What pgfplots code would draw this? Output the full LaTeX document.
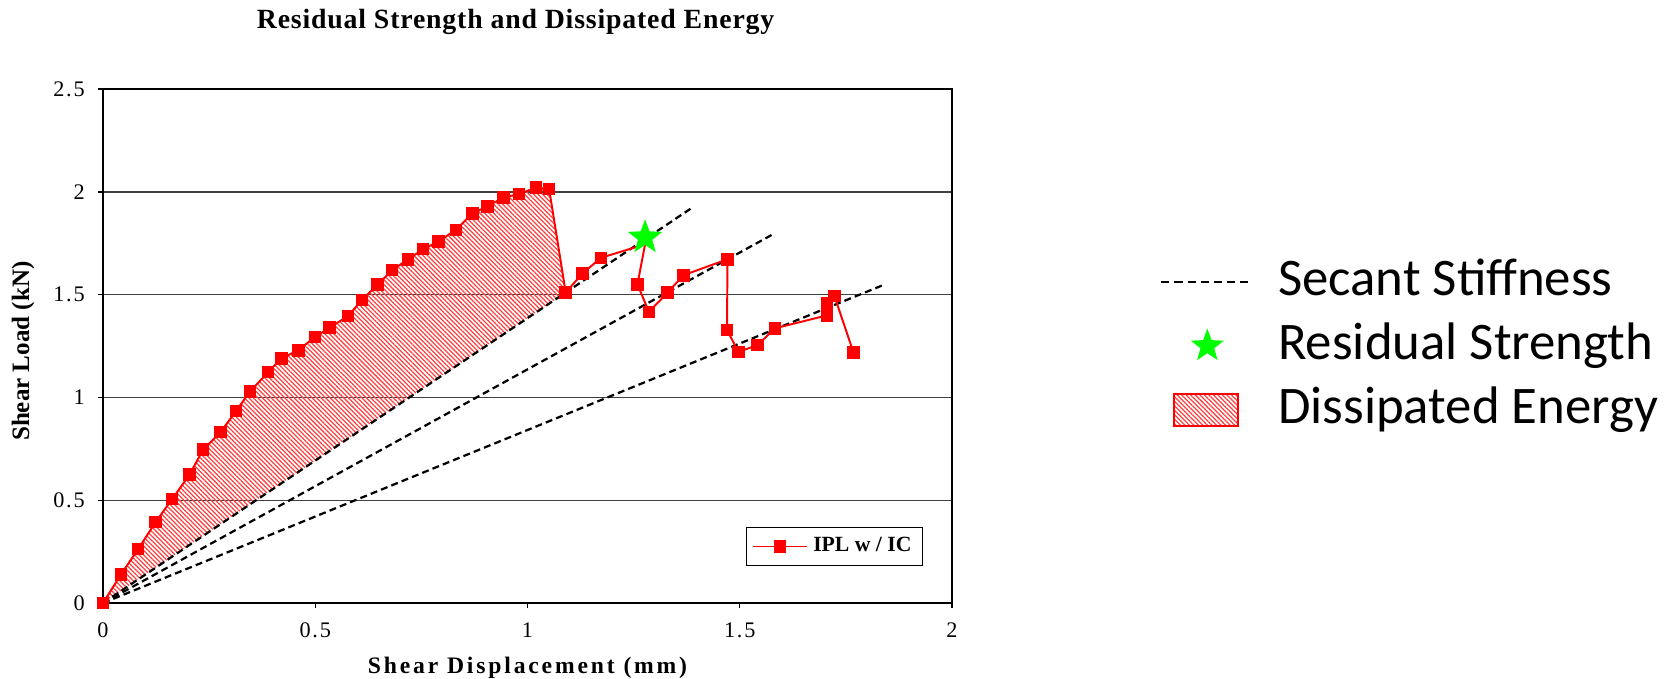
\documentclass[border=0pt]{standalone}
\usepackage{pgfplots}
\pgfplotsset{compat=1.18}
\usepackage{fontspec}
\setmainfont{Liberation Serif}
\newfontfamily\carlito{Carlito}
\newfontfamily\spaced{Liberation Serif}[LetterSpace=12]
\newfontfamily\titlef{Liberation Serif}[LetterSpace=3]
\newfontfamily\tickf{Liberation Serif}[LetterSpace=8]
\usetikzlibrary{patterns.meta, shapes.geometric}
\definecolor{brightgreen}{RGB}{0,255,0}
\pgfdeclareplotmark{fivestar}{%
  \pgfpathmoveto{\pgfpointpolar{90}{\pgfplotmarksize}}%
  \pgfpathlineto{\pgfpointpolar{126}{0.42\pgfplotmarksize}}%
  \pgfpathlineto{\pgfpointpolar{162}{\pgfplotmarksize}}%
  \pgfpathlineto{\pgfpointpolar{198}{0.42\pgfplotmarksize}}%
  \pgfpathlineto{\pgfpointpolar{234}{\pgfplotmarksize}}%
  \pgfpathlineto{\pgfpointpolar{270}{0.42\pgfplotmarksize}}%
  \pgfpathlineto{\pgfpointpolar{306}{\pgfplotmarksize}}%
  \pgfpathlineto{\pgfpointpolar{342}{0.42\pgfplotmarksize}}%
  \pgfpathlineto{\pgfpointpolar{18}{\pgfplotmarksize}}%
  \pgfpathlineto{\pgfpointpolar{54}{0.42\pgfplotmarksize}}%
  \pgfpathclose
  \pgfusepathqfill}

\pgfplotstableread{
x y
0 0
0.042 0.138
0.083 0.263
0.124 0.394
0.163 0.506
0.204 0.625
0.236 0.747
0.277 0.831
0.313 0.933
0.346 1.028
0.389 1.123
0.420 1.190
0.460 1.229
0.499 1.294
0.534 1.339
0.577 1.396
0.610 1.474
0.647 1.549
0.681 1.619
0.719 1.672
0.754 1.721
0.790 1.758
0.831 1.815
0.870 1.895
0.906 1.929
0.943 1.973
0.980 1.989
1.020 2.021
1.051 2.013
1.090 1.510
1.129 1.602
1.173 1.679
1.277 1.745
1.259 1.550
1.286 1.416
1.330 1.510
1.367 1.594
1.471 1.672
1.470 1.328
1.497 1.221
1.542 1.255
1.583 1.336
1.705 1.399
1.705 1.458
1.723 1.493
1.768 1.218
}\ipldata

\pgfplotstableread{
x y
0 0
0.042 0.138
0.083 0.263
0.124 0.394
0.163 0.506
0.204 0.625
0.236 0.747
0.277 0.831
0.313 0.933
0.346 1.028
0.389 1.123
0.420 1.190
0.460 1.229
0.499 1.294
0.534 1.339
0.577 1.396
0.610 1.474
0.647 1.549
0.681 1.619
0.719 1.672
0.754 1.721
0.790 1.758
0.831 1.815
0.870 1.895
0.906 1.929
0.943 1.973
0.980 1.989
1.020 2.021
1.051 2.013
1.090 1.510
}\energydata

\begin{document}
\begin{tikzpicture}
\useasboundingbox (0,0) rectangle (600pt,243.9pt);
\begin{axis}[
  at={(37.05pt,26.98pt)}, anchor=south west,
  scale only axis, width=305.4pt, height=184.9pt,
  xmin=0, xmax=2, ymin=0, ymax=2.5,
  clip=false,
  xtick={0,0.5,1,1.5,2}, ytick={0,0.5,1,1.5,2,2.5},
  tick align=outside, xtick pos=left, ytick pos=left,
  major tick length=1.8pt,
  ymajorgrids, major grid style={black!75, line width=0.5pt},
  axis line style={line width=0.55pt},
  tick style={black, line width=0.5pt},
  /pgf/number format/assume math mode=true,
  ticklabel style={font=\tickf\fontsize{8}{9}\selectfont},
  xticklabel style={anchor=center, yshift=-8pt},
  yticklabel style={anchor=east, inner sep=0pt, xshift=-4.6pt},
  xlabel={\spaced\bfseries Shear Displacement (mm)},
  xlabel style={at={(0.5,-0.126)}, anchor=center, font=\fontsize{8.5}{10}\selectfont},
  ylabel={\bfseries Shear Load (kN)},
  ylabel style={at={(-0.094,0.49)}, anchor=center, font=\fontsize{9}{11}\selectfont},
  legend style={at={(0.966,0.072)}, anchor=south east, draw=black,
    font=\bfseries\fontsize{7.8}{9}\selectfont, inner xsep=2pt, inner ysep=1.5pt},
]
\addplot[draw=none, pattern={Lines[angle=-45, distance=1.15pt, line width=0.45pt]}, pattern color=red!75, forget plot] table[x=x, y=y] {\energydata};
\addplot[black, line width=0.8pt, dash pattern=on 2.5pt off 1.5pt, forget plot] coordinates {(0,0) (1.39,1.926)};
\addplot[black, line width=0.8pt, dash pattern=on 2.5pt off 1.5pt, forget plot] coordinates {(0,0) (1.575,1.790)};
\addplot[black, line width=0.8pt, dash pattern=on 2.5pt off 1.5pt, forget plot] coordinates {(0,0) (1.842,1.550)};
\addplot[red, line width=0.7pt, mark=square*, mark size=1.9pt,
  mark indices={1,2,3,4,5,6,7,8,9,10,11,12,13,14,15,16,17,18,19,20,21,22,23,24,25,26,27,28,29,30,31,32,34,35,36,37,38,39,40,41,42,43,44,45,46},
  legend image code/.code={\draw[red, line width=0.7pt, mark=square*, mark size=1.9pt, mark indices={2}] plot coordinates {(0cm,0cm) (0.34cm,0cm) (0.68cm,0cm)};}]
  table[x=x, y=y] {\ipldata};
\addlegendentry{IPL w / IC}
\addplot[only marks, mark=fivestar, mark size=6.5pt, color=brightgreen, forget plot] coordinates {(1.277,1.778)};
\node[font=\titlef\bfseries\fontsize{10}{12}\selectfont, anchor=center] at (rel axis cs:0.486,1.13) {Residual Strength and Dissipated Energy};
\end{axis}
\begin{axis}[
  at={(37.05pt,26.98pt)}, anchor=south west,
  scale only axis, width=305.4pt, height=184.9pt,
  hide axis, xmin=0, xmax=1, ymin=0, ymax=1,
  legend cell align=left,
  legend style={at={(1.245,0.5)}, anchor=west, draw=none, fill=none, inner sep=0pt,
    font=\carlito\fontsize{19}{23}\selectfont, row sep=7pt, column sep=9.7pt,
    nodes={inner sep=0pt, text height=13pt, text depth=3pt}},
]
\addlegendimage{legend image code/.code={\draw[black, line width=0.6pt, dash pattern=on 2.9pt off 1.8pt] (0pt,0pt) -- (32pt,0pt);}}
\addlegendentry{Secant Stiffness}
\addlegendimage{legend image code/.code={\path[draw=none] (0pt,0pt) -- (32pt,0pt); \node[star, star points=5, star point ratio=2.4, fill=brightgreen, draw=none, inner sep=0pt, text height=0pt, text depth=0pt, minimum size=12.5pt] at (12.7pt,0pt) {};}}
\addlegendentry{Residual Strength}
\addlegendimage{legend image code/.code={\path[draw=none] (0pt,0pt) -- (32pt,0pt); \draw[red, line width=0.8pt, pattern={Lines[angle=-45, distance=1.15pt, line width=0.45pt]}, pattern color=red!75] (4.5pt,-5.75pt) rectangle (27.5pt,5.75pt);}}
\addlegendentry{Dissipated Energy}
\end{axis}
\end{tikzpicture}
\end{document}
